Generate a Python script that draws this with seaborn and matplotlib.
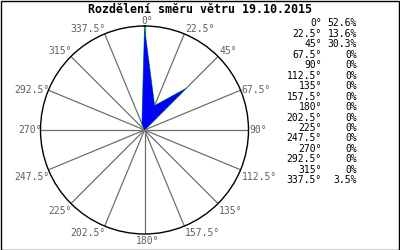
import numpy as np
import matplotlib
matplotlib.use("Agg")
import matplotlib.pyplot as plt
from matplotlib.patches import Rectangle
import seaborn as sns

# ---- data -------------------------------------------------------------
directions = [0, 22.5, 45, 67.5, 90, 112.5, 135, 157.5,
              180, 202.5, 225, 247.5, 270, 292.5, 315, 337.5]
shares = [52.6, 13.6, 30.3, 0, 0, 0, 0, 0,
          0, 0, 0, 0, 0, 0, 0, 3.5]
direction_labels = ["0°", "22.5°", "45°", "67.5°", "90°", "112.5°", "135°", "157.5°",
                    "180°", "202.5°", "225°", "247.5°", "270°", "292.5°", "315°", "337.5°"]
share_labels = ["52.6%", "13.6%", "30.3%", "0%", "0%", "0%", "0%", "0%",
                "0%", "0%", "0%", "0%", "0%", "0%", "0%", "3.5%"]
title = "Rozdělení směru větru 19.10.2015"

# ---- style ------------------------------------------------------------
sns.set_theme(style="white")
plt.rcParams["font.family"] = ["DejaVu Sans Mono", "DejaVu Sans"]

W, H = 400, 250
fig = plt.figure(figsize=(W / 100, H / 100), dpi=100)
fig.patch.set_facecolor("white")

cx, cy, R = 144.5, 130, 104
ax = fig.add_axes([(cx - R) / W, (H - cy - R) / H, 2 * R / W, 2 * R / H],
                  projection="polar")
ax.set_facecolor("white")
ax.set_theta_zero_location("N")
ax.set_theta_direction(-1)
rmax = 53.5
ax.set_ylim(0, rmax)

theta = np.deg2rad(directions)
th = np.append(theta, theta[0])
rr = np.append(np.array(shares, float), shares[0])

ax.plot(th, rr, color="#00c800", lw=0.6, zorder=3)
ax.fill(th, rr, color="#0000ff", lw=0, zorder=4)

ax.set_xticks(theta)
ax.set_xticklabels([])
ax.set_yticks([])
ax.xaxis.grid(True, color="#707070", lw=0.9)
ax.yaxis.grid(False)
ax.spines["polar"].set_color("black")
ax.spines["polar"].set_linewidth(1.0)
ax.tick_params(axis="x", length=0, pad=0)

# direction labels around the circle
for d, t, lab in zip(directions, theta, direction_labels):
    if d == 0 or d == 180:
        ha, dx = "center", 3
    elif d < 180:
        ha, dx = "left", 1
    else:
        ha, dx = "right", 1
    if d in (67.5, 90, 270, 292.5):
        va, dy = "center", 0
    elif d < 67.5 or d > 292.5:
        va, dy = "bottom", 0
    else:
        va, dy = "top", -2
    ax.annotate(lab, xy=(t, rmax), xytext=(dx, dy), textcoords="offset pixels",
                ha=ha, va=va, fontsize=7, color="#606060", annotation_clip=False)

# title
fig.text(200 / W, 1 - 9.5 / H, title, ha="center", va="center",
         fontsize=8.4, fontweight="bold", color="black")

# value table on the right
y0, dy_row = 23.5, 10.45
for i, (a, p) in enumerate(zip(direction_labels, share_labels)):
    y = 1 - (y0 + i * dy_row) / H
    fig.text(322 / W, y, a, ha="right", va="center", fontsize=7, color="black")
    fig.text(357 / W, y, p, ha="right", va="center", fontsize=7, color="black")

# frame around the image
fig.patches.append(Rectangle((0.5 / W, 0.5 / H), (W - 2) / W, (H - 1.5) / H,
                             transform=fig.transFigure, fill=False,
                             edgecolor="black", lw=1.0))

fig.savefig("out.png", dpi=100, facecolor="white")
